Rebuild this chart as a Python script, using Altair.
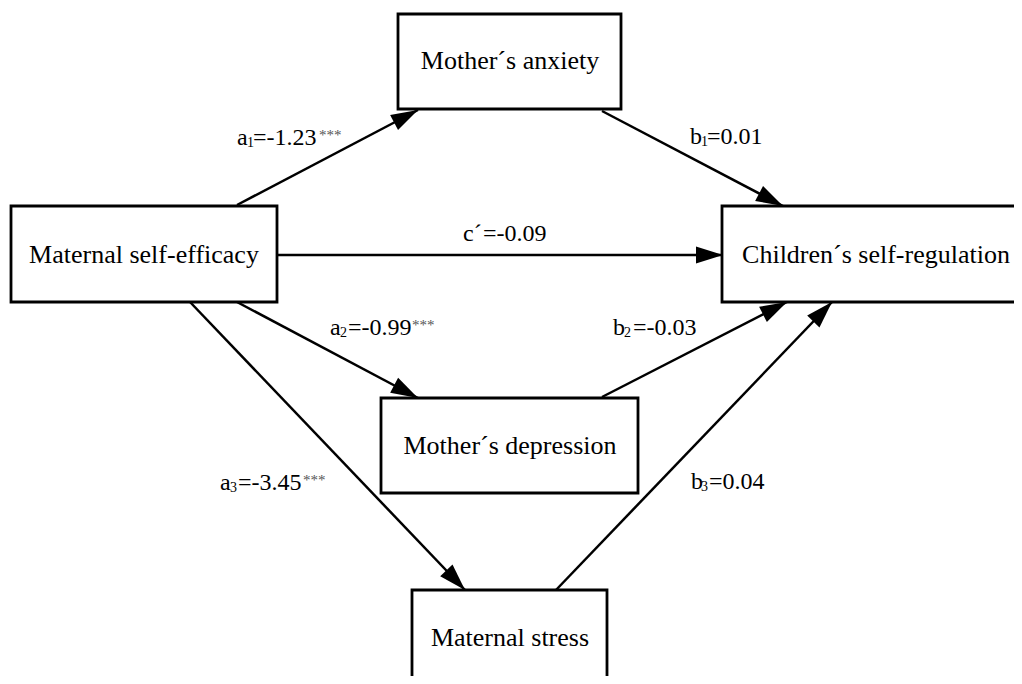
import math
import altair as alt
import pandas as pd

# ---- nodes (path diagram boxes) ----
node_names = ["Mother´s anxiety", "Maternal self-efficacy", "Children´s self-regulation",
              "Mother´s depression", "Maternal stress"]
box_left = [398, 11, 722, 381, 412]
box_right = [621, 277, 1030, 638, 607]
box_top = [14, 206, 206, 398, 590]
box_bottom = [109, 302, 302, 493, 700]
node_label_x = [510, 144, 876, 510, 510]
node_label_y = [69, 263, 263, 454, 646]

# ---- paths (arrows) ----
start_x = [237, 602, 277, 237, 190, 602, 556]
start_y = [205, 111, 255, 302, 302, 397, 590]
end_x = [418, 783, 723, 418, 465, 787, 832]
end_y = [110, 206, 255, 398, 590, 302, 302]

# ---- path coefficient labels ----
lbl_prefix = ["a", "b", "c´", "a", "a", "b", "b"]
lbl_sub = ["1", "1", "", "2", "3", "2", "3"]
lbl_rest = ["=-1.23", "=0.01", "=-0.09", "=-0.99", "=-3.45", "=-0.03", "=0.04"]
lbl_sig = ["***", "", "", "***", "***", "", ""]
lbl_left = [237, 690, 463, 330, 220, 613, 691]
lbl_sub_x = [247, 701, 482, 340, 230, 624, 701]
lbl_rest_x = [253, 707, 483, 348, 238, 633, 709]
lbl_sig_x = [319, 0, 0, 412, 303, 0, 0]
lbl_y = [145, 144, 241, 335, 490, 335, 489]

nodes = pd.DataFrame({"name": node_names, "x0": box_left, "x1": box_right,
                      "y0": box_top, "y1": box_bottom,
                      "lx": node_label_x, "ly": node_label_y})

angles = []
for sx, sy, ex, ey in zip(start_x, start_y, end_x, end_y):
    a = math.degrees(math.atan2(ex - sx, -(ey - sy)))
    angles.append(a % 360)

paths = pd.DataFrame({"sx": start_x, "sy": start_y, "ex": end_x, "ey": end_y, "ang": angles})

labels = pd.DataFrame({"prefix": lbl_prefix, "sub": lbl_sub, "rest": lbl_rest, "sig": lbl_sig,
                       "px": lbl_left, "subx": lbl_sub_x, "rx": lbl_rest_x, "sigx": lbl_sig_x,
                       "y": lbl_y})

XS = alt.Scale(domain=[8, 1014], range=[0, 1006])
YS = alt.Scale(domain=[8, 676], range=[0, 668])
FONT = "Liberation Serif"


def X(f):
    return alt.X(f, type="quantitative", scale=XS, axis=None)


def Y(f):
    return alt.Y(f, type="quantitative", scale=YS, axis=None)


boxes = alt.Chart(nodes).mark_rect(fill="white", stroke="black", strokeWidth=2.8).encode(
    x=X("x0"), x2="x1", y=Y("y0"), y2="y1")

node_text = alt.Chart(nodes).mark_text(font=FONT, fontSize=26, align="center",
                                       baseline="alphabetic", color="black").encode(
    x=X("lx"), y=Y("ly"), text="name")

lines = alt.Chart(paths).mark_rule(color="black", strokeWidth=2.5).encode(
    x=X("sx"), y=Y("sy"), x2="ex", y2="ey")

heads = alt.Chart(paths).mark_point(shape="M0,0L-0.63,2L0.63,2Z", filled=True,
                                    size=729, color="black", opacity=1, strokeWidth=0).encode(
    x=X("ex"), y=Y("ey"), angle=alt.Angle("ang:Q", scale=None))

base_lbl = alt.Chart(labels)

prefix_text = base_lbl.mark_text(font=FONT, fontSize=24, align="left",
                                 baseline="alphabetic", color="black").encode(
    x=X("px"), y=Y("y"), text="prefix")

sub_text = base_lbl.transform_filter("datum.sub != ''").mark_text(
    font=FONT, fontSize=14, align="left", baseline="alphabetic", color="black", dy=2).encode(
    x=X("subx"), y=Y("y"), text="sub")

rest_text = base_lbl.mark_text(font=FONT, fontSize=24, align="left",
                               baseline="alphabetic", color="black").encode(
    x=X("rx"), y=Y("y"), text="rest")

sig_text = base_lbl.transform_filter("datum.sig != ''").mark_text(
    font=FONT, fontSize=15, align="left", baseline="alphabetic", color="#555555", dy=-5).encode(
    x=X("sigx"), y=Y("y"), text="sig")

chart = alt.layer(boxes, lines, heads, node_text, prefix_text, sub_text, rest_text, sig_text).properties(
    width=1006, height=668, autosize=alt.AutoSizeParams(type="none"), padding=0,
    background="white").configure_view(stroke=None)

chart.save("out.html", embed_options={"renderer": "svg", "actions": False})
